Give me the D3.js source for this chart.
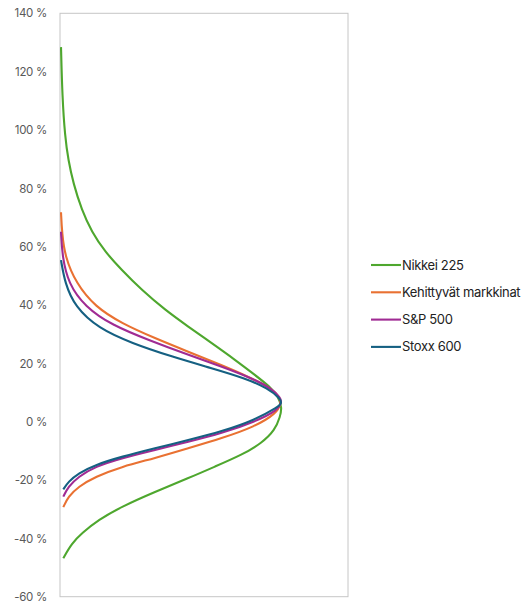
<!DOCTYPE html>
<html>
<head>
<meta charset="utf-8">
<script src="https://cdn.jsdelivr.net/npm/d3@7"></script>
<style>
  html, body { margin: 0; padding: 0; background: #fff; }
  svg { display: block; }
</style>
</head>
<body>
<svg id="chart" width="532" height="601"></svg>
<script>
// Return distributions: each point is [return %, relative density]
const seriesNames = ["Nikkei 225", "Kehittyvät markkinat", "S&P 500", "Stoxx 600"];
const seriesColors = ["#4EA72E", "#E97132", "#A02B93", "#156082"];

const nikkei = [
  [128.4, 0.35], [111.4, 0.8], [97.7, 1.74], [89.7, 2.88], [81.7, 4.62], [72.6, 7.53],
  [65.1, 11.0], [58.3, 15.6], [52.0, 21.4], [45.1, 28.4], [38.3, 36.5], [32.6, 44.5],
  [26.9, 52.7], [21.2, 60.8], [16.0, 67.7], [12.0, 72.9], [8.6, 75.8], [4.7, 77.1],
  [1.7, 76.4], [-2.8, 74.7], [-7.4, 70.0], [-11.4, 63.1], [-15.4, 53.8], [-19.4, 44.5],
  [-24.0, 33.0], [-29.1, 21.4], [-33.7, 13.3], [-38.3, 7.5], [-41.7, 4.1], [-46.8, 1.15]
];
const emerging = [
  [71.8, 0.35], [64.6, 0.7], [56.6, 1.74], [47.4, 5.6], [39.4, 12.2], [33.7, 21.4],
  [28.6, 33.0], [24.0, 44.5], [19.4, 56.1], [15.4, 65.4], [12.0, 72.3], [8.6, 76.4],
  [6.1, 76.7], [2.9, 75.2], [-1.7, 67.7], [-5.7, 56.1], [-9.1, 44.5], [-12.5, 33.0],
  [-15.4, 21.4], [-18.9, 12.2], [-22.3, 6.35], [-25.7, 2.88], [-29.3, 1.15]
];
const sp500 = [
  [65.1, 0.35], [56.6, 0.8], [47.4, 2.88], [39.4, 8.7], [33.1, 18.0], [28.0, 30.7],
  [22.9, 44.5], [18.9, 56.1], [14.9, 66.6], [11.4, 73.5], [8.0, 76.7], [6.8, 76.9],
  [4.0, 75.8], [0.0, 67.7], [-4.0, 56.1], [-6.9, 44.5], [-9.7, 33.0], [-12.5, 21.4],
  [-15.4, 12.2], [-18.9, 6.35], [-22.3, 2.88], [-25.7, 1.15]
];
const stoxx = [
  [55.4, 0.35], [47.4, 1.74], [39.4, 5.2], [32.0, 13.3], [26.9, 24.9], [22.3, 38.8],
  [18.3, 52.7], [14.9, 64.2], [11.4, 72.3], [8.0, 76.4], [6.3, 77.0], [5.1, 75.8],
  [0.6, 67.7], [-3.4, 56.1], [-6.3, 44.5], [-9.1, 33.0], [-12.0, 21.4], [-14.8, 12.2],
  [-17.7, 6.35], [-20.6, 2.88], [-23.2, 1.15]
];
const seriesData = [nikkei, emerging, sp500, stoxx];

const yTicks = [-60, -40, -20, 0, 20, 40, 60, 80, 100, 120, 140];

const svg = d3.select("#chart");
const plot = { left: 60, right: 348, top: 13.3, bottom: 596.7 };

const x = d3.scaleLinear().domain([0, 100]).range([plot.left, plot.right]);
const y = d3.scaleLinear().domain([-60, 140]).range([plot.bottom, plot.top]);

// Plot frame
svg.append("rect")
  .attr("x", plot.left).attr("y", plot.top)
  .attr("width", plot.right - plot.left).attr("height", plot.bottom - plot.top)
  .attr("fill", "none").attr("stroke", "#C6C6C6").attr("stroke-width", 1);

// Y axis labels
const yAxis = d3.axisLeft(y)
  .tickValues(yTicks)
  .tickSize(0)
  .tickPadding(13)
  .tickFormat(d => d + " %");
const gy = svg.append("g")
  .attr("transform", `translate(${plot.left},0)`)
  .call(yAxis);
gy.select(".domain").remove();
gy.selectAll("text")
  .attr("fill", "#595959")
  .style("font-family", "Inter, 'Liberation Sans', sans-serif")
  .style("font-size", "11.5px")
  .style("letter-spacing", "-0.3px");

// Distribution curves, smoothed through the sampled points
const line = d3.line()
  .x(d => x(d[1]))
  .y(d => y(d[0]))
  .curve(d3.curveBasis);

seriesData.forEach((data, i) => {
  svg.append("path")
    .datum(data)
    .attr("fill", "none")
    .attr("stroke", seriesColors[i])
    .attr("stroke-width", 2.1)
    .attr("stroke-linejoin", "round")
    .attr("d", line);
});

// Legend
const legend = svg.append("g").attr("transform", "translate(371,265)");
seriesNames.forEach((name, i) => {
  const g = legend.append("g").attr("transform", `translate(0,${i * 27.3})`);
  g.append("line")
    .attr("x1", 0).attr("x2", 30).attr("y1", 0).attr("y2", 0)
    .attr("stroke", seriesColors[i]).attr("stroke-width", 2.1);
  g.append("text")
    .attr("x", 31).attr("y", 0).attr("dy", "0.35em")
    .attr("fill", "#222")
    .style("font-family", "Inter, 'Liberation Sans', sans-serif")
    .style("font-size", "13px")
    .style("letter-spacing", "-0.35px")
    .text(name);
});
</script>
</body>
</html>
